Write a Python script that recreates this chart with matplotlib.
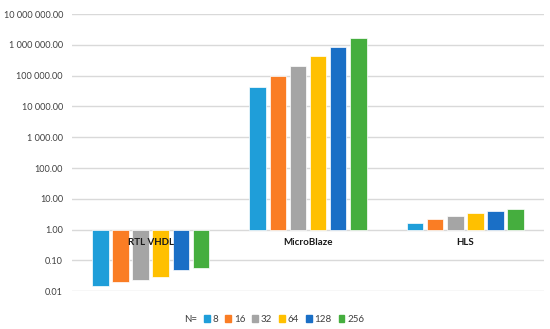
import numpy as np
import matplotlib
matplotlib.use('Agg')
import matplotlib.pyplot as plt
from matplotlib.ticker import FixedLocator, FuncFormatter
from matplotlib.patches import Rectangle

plt.rcParams['font.family'] = ['Lato', 'DejaVu Sans']

categories = ['RTL VHDL', 'MicroBlaze', 'HLS']
series = ['8', '16', '32', '64', '128', '256']
rtl_vhdl = [0.015, 0.020, 0.023, 0.030, 0.048, 0.056]
microblaze = [44000, 100000, 210000, 420000, 840000, 1670000]
hls = [1.65, 2.2, 2.85, 3.5, 4.05, 4.7]
colors = ['#1F9ED9', '#FA7D24', '#A5A5A5', '#FFC000', '#1A6FC6', '#45AE3E']
yticks = [0.01, 0.1, 1, 10, 100, 1000, 1e4, 1e5, 1e6, 1e7]

values = np.array([rtl_vhdl, microblaze, hls])

fig = plt.figure(figsize=(5.5, 3.29), dpi=100)
ax = fig.add_axes([72/550, 1-291.3/329, (544-72)/550, (291.3-14)/329])
ax.set_yscale('log')
ax.set_ylim(0.01, 1e7)
ax.set_xlim(-0.5, 2.5)

pitch = 0.128
width = 0.105
x = np.arange(len(categories))
for i, s in enumerate(series):
    xs = x + (i - 2.5) * pitch
    ax.bar(xs, values[:, i] - 1, bottom=1, width=width, color=colors[i],
           edgecolor='white', linewidth=0.5, zorder=3)

ax.yaxis.set_major_locator(FixedLocator(yticks))
ax.yaxis.set_minor_locator(FixedLocator([]))
ax.yaxis.set_major_formatter(FuncFormatter(lambda v, p: '{:,.2f}'.format(v).replace(',', ' ')))
ax.tick_params(axis='y', length=0, labelsize=6.6, colors='#404040', pad=6.5)
ax.set_xticks([])
ax.grid(axis='y', color='#D9D9D9', linewidth=1, zorder=0)
for sp in ax.spines.values():
    sp.set_visible(False)

for xi, c in zip(x, categories):
    ax.annotate(c, (xi, 1), xytext=(0, -9.5), textcoords='offset points',
                ha='center', va='center', fontsize=7, fontweight='bold',
                color='#1a1a1a', zorder=5)

handles = [Rectangle((0, 0), 1, 1, color=c) for c in colors]
fig.text(184/550, 1-319/329, 'N=', fontsize=7, color='#404040', va='center', ha='left')
fig.legend(handles, series, loc='center', bbox_to_anchor=(284/550, 1-319.5/329), ncol=6,
           frameon=False, fontsize=7, handlelength=0.6, handleheight=0.6,
           handletextpad=0.3, columnspacing=0.7, borderpad=0, labelcolor='#404040')

fig.savefig('out.png', dpi=100)
